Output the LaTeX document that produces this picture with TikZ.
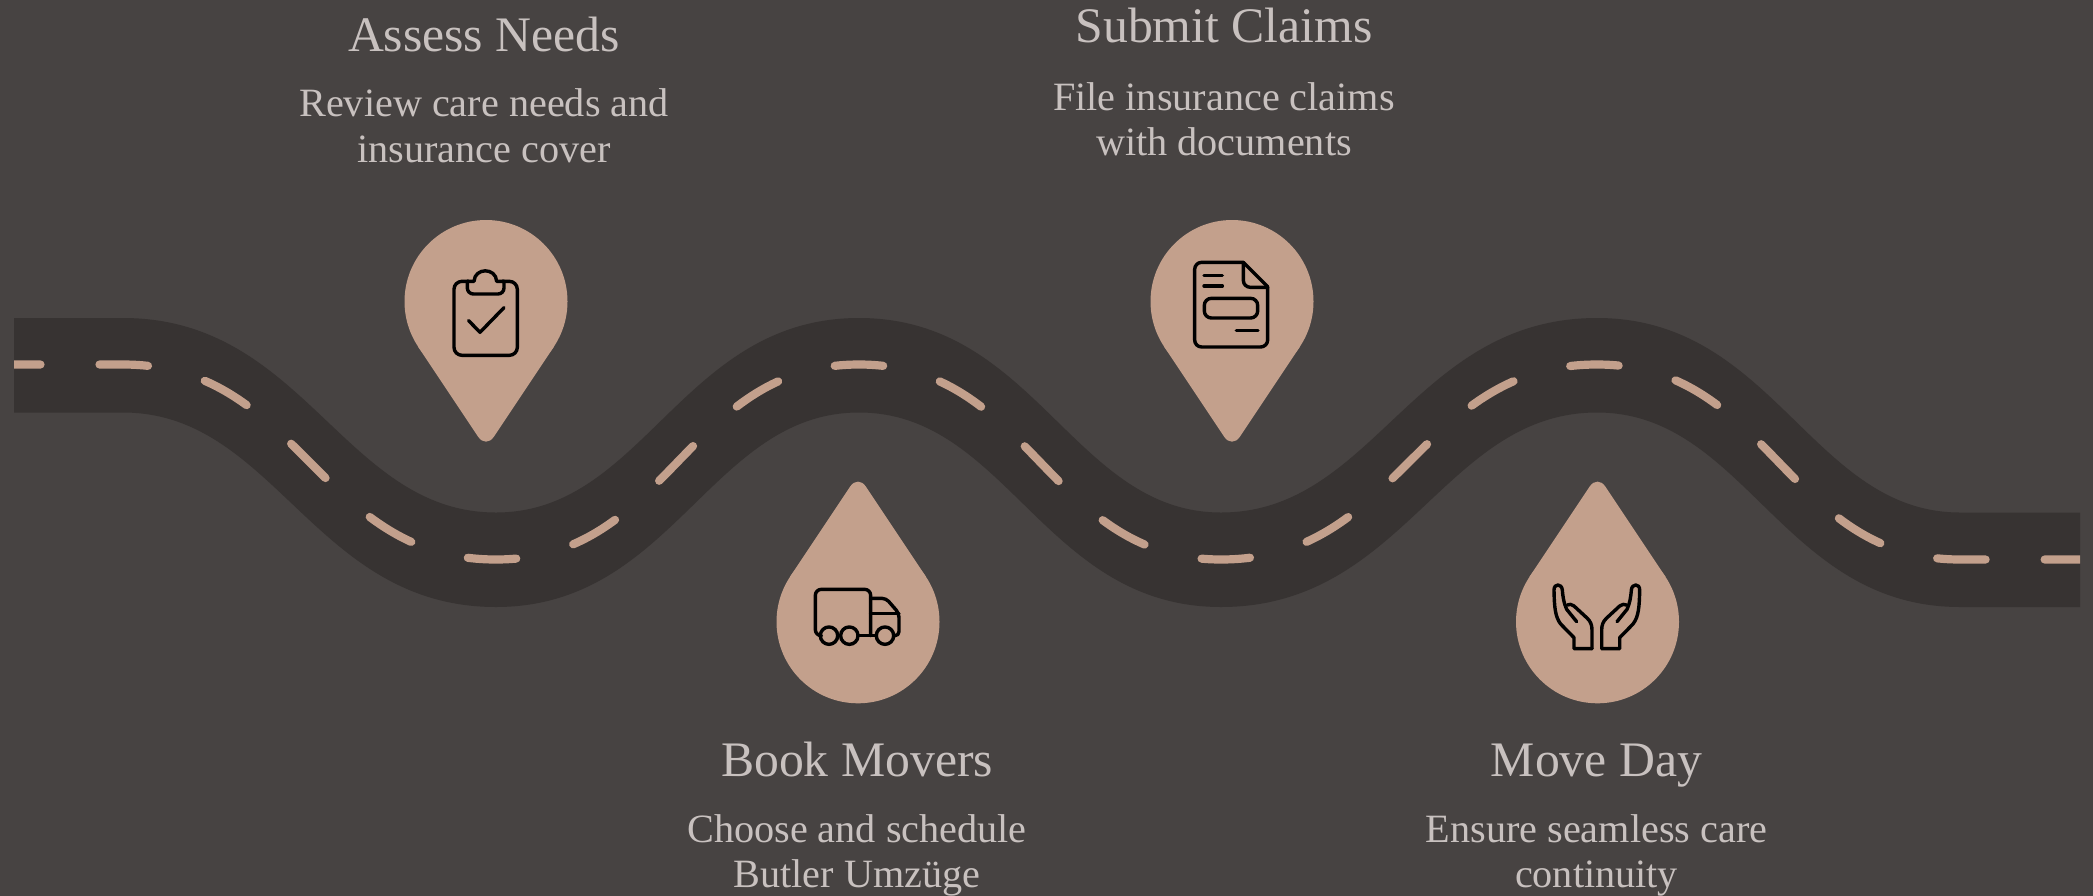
\documentclass[tikz,border=0pt]{standalone}
\usepackage{fontspec}
\setmainfont{Liberation Serif}
\definecolor{bgc}{RGB}{71,67,66}
\definecolor{roadc}{RGB}{55,51,50}
\definecolor{tanc}{RGB}{195,160,140}
\definecolor{txtc}{RGB}{200,193,191}
\tikzset{
  titletext/.style={anchor=base,text=txtc,inner sep=0pt,font=\fontsize{49.7}{50}\selectfont},
  bodytext/.style={anchor=base,text=txtc,inner sep=0pt,align=center,font=\fontsize{40.2}{45.3}\selectfont},
  iconline/.style={draw=black,line width=3.4pt,line cap=round,line join=round,fill=none},
  pinfill/.style={fill=tanc,draw=none},
}
\newcommand{\pinshape}[3]{% x, y of circle centre, direction (-1 tip down, 1 tip up)
  \begin{scope}[shift={(#1,#2)},y={(0pt,#3 pt)}]
    \fill[pinfill] (0,0) circle[radius=81.5pt];
    \fill[pinfill] (-68,45) -- (-7.8,135.3) .. controls (-3.48,141.8) and (3.48,141.8) .. (7.8,135.3) -- (68,45) -- cycle;
  \end{scope}}
% one hump: xa ya ca xb yb cb
\newcommand{\hump}[6]{.. controls ({#1+#3*(#4-#1)},#2) and ({#4-#6*(#4-#1)},#5) .. (#4,#5)}
\begin{document}
\begin{tikzpicture}[x=1pt,y=-1pt]
\useasboundingbox (0,0) rectangle (2093,895);
\fill[bgc] (-6,-6) rectangle (2099,901);
% road, as the area between its two edges
\fill[roadc] (14,318) -- (123,318)
  \hump{123}{318}{.4875}{496}{512.5}{.4075}
  \hump{496}{512.5}{.4075}{859}{318}{.4875}
  \hump{859}{318}{.4875}{1221}{512.5}{.4075}
  \hump{1221}{512.5}{.4075}{1597}{318}{.4875}
  \hump{1597}{318}{.4875}{1960}{512.5}{.4075}
  -- (2080,512.5) -- (2080,607) -- (1960,607)
  \hump{1960}{607}{.4875}{1597}{412.5}{.4075}
  \hump{1597}{412.5}{.4075}{1221}{607}{.4875}
  \hump{1221}{607}{.4875}{859}{412.5}{.4075}
  \hump{859}{412.5}{.4075}{496}{607}{.4875}
  \hump{496}{607}{.4875}{123}{412.5}{.4075}
  -- (14,412.5) -- cycle;
% centre line
\begin{scope}
  \clip (14,0) rectangle (2080,895);
  \draw[tanc,line width=8.2pt,line cap=round,dash pattern=on 48.5pt off 59pt,dash phase=22pt]
    (14,364.5) -- (123,364.5)
    \hump{123}{364.5}{.48}{496}{559.5}{.48}
    \hump{496}{559.5}{.48}{859}{364.5}{.48}
    \hump{859}{364.5}{.48}{1221}{559.5}{.48}
    \hump{1221}{559.5}{.48}{1597}{364.5}{.48}
    \hump{1597}{364.5}{.48}{1960}{559.5}{.48}
    -- (2080,559.5);
\end{scope}
% pins
\pinshape{486}{301.5}{-1}
\pinshape{1232}{301.5}{-1}
\pinshape{858}{621.8}{1}
\pinshape{1597.5}{621.8}{1}
% clipboard
\begin{scope}[shift={(380,200)},x=0.3333pt,y=-0.3333pt]
  \draw[iconline,rounded corners=8pt] (222,244) rectangle (412,466);
  \fill[tanc] (268,236) rectangle (366,252);
  \draw[iconline,rounded corners=6pt] (262,244) -- (262,282) -- (372,282) -- (372,244);
  \draw[iconline] (262,244) -- (282,244) .. controls (284,202) and (348,202) .. (350,244) -- (372,244);
  \draw[iconline] (266,362) -- (300,397) -- (372,323);
\end{scope}
% document
\begin{scope}[shift={(1130,200)},x=0.3333pt,y=-0.3333pt]
  \draw[iconline,rounded corners=7pt] (340,187) -- (194,187) -- (194,441) -- (413,441) -- (413,260);
  \draw[iconline] (340,187) -- (413,260);
  \draw[iconline,rounded corners=7pt] (340,187) -- (340,262) -- (413,262);
  \draw[iconline] (222,227) -- (277,227) (222,258) -- (277,258) (319,392) -- (384,392);
  \draw[iconline,rounded corners=7pt] (223,295) rectangle (383,354);
\end{scope}
% truck
\begin{scope}[shift={(750,470)},x=0.3333pt,y=-0.3333pt]
  \draw[iconline,rounded corners=6pt] (211,497) -- (196,497) -- (196,358) -- (362,358) -- (362,497);
  \draw[iconline] (324,497) -- (379,497);
  \draw[iconline,rounded corners=4pt] (362,385) -- (408,385) -- (447,430) -- (447,497) -- (431,497);
  \draw[iconline] (362,430) -- (447,430);
  \draw[iconline] (237,497) circle[radius=8.7pt];
  \draw[iconline] (298,497) circle[radius=8.7pt];
  \draw[iconline] (405,497) circle[radius=8.7pt];
\end{scope}
% hands
\newcommand{\handshape}{
  \draw[iconline] (306,536) -- (252,536) -- (252,503) -- (212,462) .. controls (195,440) and (193,410) .. (192,360) .. controls (192,340) and (215,340) .. (217,360) .. controls (219,385) and (222,400) .. (230,418) -- (260,455);
  \draw[iconline] (232,405) .. controls (238,402) and (245,402) .. (252,408) -- (292,445) .. controls (302,455) and (306,465) .. (306,480) -- (306,536);
}
\begin{scope}[shift={(1490,470)},x=0.3333pt,y=-0.3333pt]\handshape\end{scope}
\begin{scope}[shift={(1703.67,470)},x=-0.3333pt,y=-0.3333pt]\handshape\end{scope}
% text
\node[titletext] (t-a) at (484,51) {Assess Needs};
\node[bodytext] (b-a) at (484,162) {Review care needs and\\insurance cover};
\node[titletext] (t-s) at (1224,42.3) {Submit Claims};
\node[bodytext] (b-s) at (1224,155.3) {File insurance claims\\with documents};
\node[titletext] (t-b) at (857,776) {Book Movers};
\node[bodytext] (b-b) at (857,887.3) {Choose and schedule\\Butler Umzüge};
\node[titletext] (t-m) at (1596.5,776) {Move Day};
\node[bodytext] (b-m) at (1596.5,887.3) {Ensure seamless care\\continuity};
\end{tikzpicture}
\end{document}
